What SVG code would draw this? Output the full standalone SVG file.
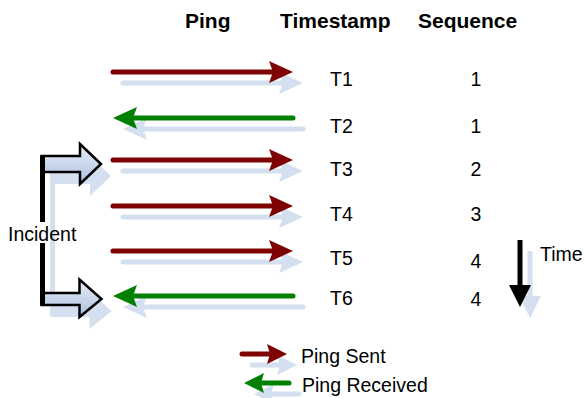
<svg xmlns="http://www.w3.org/2000/svg" xmlns:xlink="http://www.w3.org/1999/xlink" width="584" height="398" viewBox="0 0 584 398">
<style>
  text { font-family: "Liberation Sans", Arial, sans-serif; fill: #000; }
  .hdr { font-size: 21px; font-weight: bold; }
  .lbl { font-size: 19.5px; }
  .num { font-size: 19.5px; text-anchor: middle; }
  .red { color: #7f0000; }
  .green { color: #008000; }
  .shadow { color: #d4dff0; }
  .blk { fill: url(#blockGrad); stroke: #000; stroke-width: 2.5; stroke-linejoin: miter; }
  .blkShadow { fill: #d4dff0; }
</style>
<defs>
  <linearGradient id="blockGrad" x1="0" y1="0" x2="0" y2="1">
    <stop offset="0" stop-color="#e8eef8"/>
    <stop offset="1" stop-color="#acc0de"/>
  </linearGradient>
  <g id="arrowLong">
    <line x1="0" y1="0" x2="164" y2="0" stroke="currentColor" stroke-width="5" stroke-linecap="round"/>
    <path d="M156,-11 L180,0 L156,11 L160,0 Z" fill="currentColor"/>
  </g>
  <g id="arrowShort">
    <line x1="0" y1="0" x2="30" y2="0" stroke="currentColor" stroke-width="5" stroke-linecap="round"/>
    <path d="M25,-10 L45,0 L25,10 L28,0 Z" fill="currentColor"/>
  </g>
</defs>
<rect width="584" height="398" fill="#fff"/>

<g id="headers">
  <text class="hdr" x="185" y="27.5">Ping</text>
  <text class="hdr" x="280" y="27.5">Timestamp</text>
  <text class="hdr" x="418" y="27.5">Sequence</text>
</g>

<g id="connectors">
  <!-- shadows -->
  <use xlink:href="#arrowLong" class="shadow" transform="translate(123,83)"/>
  <use xlink:href="#arrowLong" class="shadow" transform="translate(303,129) scale(-1,1)"/>
  <use xlink:href="#arrowLong" class="shadow" transform="translate(123,171)"/>
  <use xlink:href="#arrowLong" class="shadow" transform="translate(123,217)"/>
  <use xlink:href="#arrowLong" class="shadow" transform="translate(123,262)"/>
  <use xlink:href="#arrowLong" class="shadow" transform="translate(303,307) scale(-1,1)"/>
  <!-- arrows -->
  <use xlink:href="#arrowLong" class="red" transform="translate(113,72)"/>
  <use xlink:href="#arrowLong" class="green" transform="translate(293,118) scale(-1,1)"/>
  <use xlink:href="#arrowLong" class="red" transform="translate(113,160)"/>
  <use xlink:href="#arrowLong" class="red" transform="translate(113,206)"/>
  <use xlink:href="#arrowLong" class="red" transform="translate(113,251)"/>
  <use xlink:href="#arrowLong" class="green" transform="translate(293,296) scale(-1,1)"/>
</g>

<g id="row1"><text class="lbl" x="330" y="86">T1</text><text class="num" x="476" y="86">1</text></g>
<g id="row2"><text class="lbl" x="330" y="132.5">T2</text><text class="num" x="476" y="132.5">1</text></g>
<g id="row3"><text class="lbl" x="330" y="176">T3</text><text class="num" x="476" y="176">2</text></g>
<g id="row4"><text class="lbl" x="330" y="221">T4</text><text class="num" x="476" y="221">3</text></g>
<g id="row5"><text class="lbl" x="330" y="264.5">T5</text><text class="num" x="476" y="268">4</text></g>
<g id="row6"><text class="lbl" x="330" y="305">T6</text><text class="num" x="476" y="306">4</text></g>

<g id="incident">
  <!-- shadow -->
  <g class="blkShadow" transform="translate(10,12)">
    <rect x="40" y="156" width="5" height="146"/>
    <path d="M40.5,156 L80,156 L80,144 L101,164 L80,184 L80,172 L40.5,172 Z"/>
    <path d="M40.5,293 L79.5,293 L79.5,279.5 L101.5,299 L79.5,317 L79.5,305 L40.5,305 Z"/>
  </g>
  <path class="blk" d="M41.5,156 L80,156 L80,144 L101,164 L80,184 L80,172 L41.5,172 Z"/>
  <path class="blk" d="M41.5,293 L79.5,293 L79.5,279.5 L101.5,299 L79.5,317 L79.5,305 L41.5,305 Z"/>
  <rect x="40" y="156" width="5" height="66" fill="#000"/>
  <rect x="40" y="243" width="5" height="62" fill="#000"/>
  <text class="lbl" x="8" y="241">Incident</text>
</g>

<g id="time">
  <g transform="translate(10,11)" fill="#d4dff0">
    <rect x="517.5" y="240" width="5" height="50"/>
    <path d="M509,285 L531,285 L520,307 Z"/>
  </g>
  <rect x="517.5" y="240" width="5" height="50" fill="#000"/>
  <path d="M509,285 L531,285 L520,307 Z" fill="#000"/>
  <text class="lbl" x="540" y="260.5">Time</text>
</g>

<g id="legend">
  <use xlink:href="#arrowShort" class="shadow" transform="translate(252,365)"/>
  <use xlink:href="#arrowShort" class="shadow" transform="translate(299,394) scale(-1,1)"/>
  <use xlink:href="#arrowShort" class="red" transform="translate(242,354)"/>
  <use xlink:href="#arrowShort" class="green" transform="translate(289,383) scale(-1,1)"/>
  <text class="lbl" x="301" y="363">Ping Sent</text>
  <text class="lbl" x="302" y="392">Ping Received</text>
</g>
</svg>
